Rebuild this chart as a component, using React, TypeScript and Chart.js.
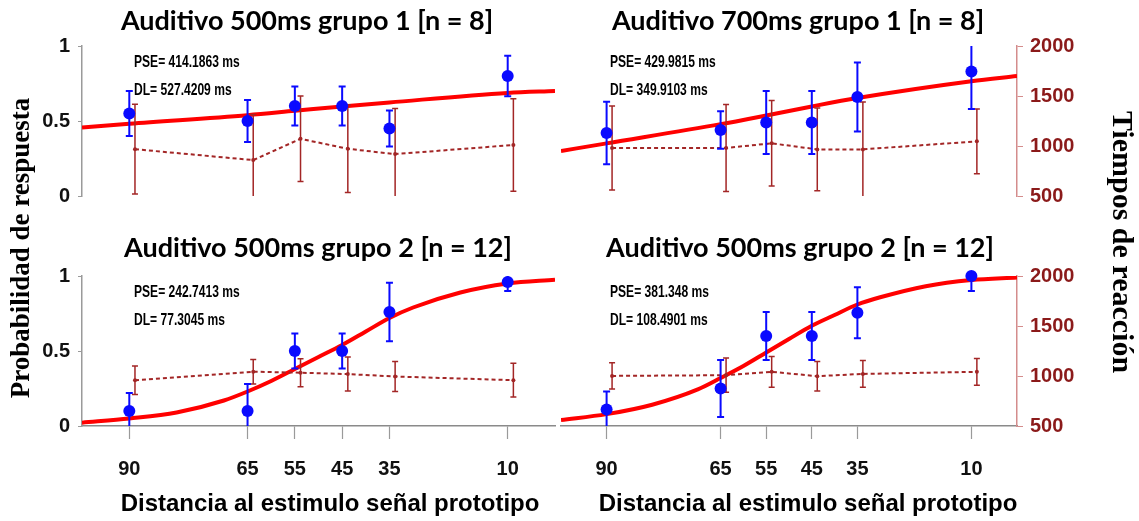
import { useEffect, useRef } from "react";
import { Chart, registerables } from "chart.js";

Chart.register(...registerables);

// Stimulus distances (x axis, shown reversed)
const DISTANCES = [90, 65, 55, 45, 35, 10];
const X_TICKS = [90, 65, 55, 45, 35, 10];
const PROB_TICKS = [0, 0.5, 1];
const RT_TICKS = [500, 1000, 1500, 2000];

// Auditivo 500ms grupo 1 [n = 8]
const PROB_A = [0.55, 0.5, 0.6, 0.6, 0.45, 0.8];
const PROB_A_ERR = [0.15, 0.14, 0.13, 0.13, 0.12, 0.135];
const RT_A = [968, 859, 1072, 972, 919, 1010];
const RT_A_ERR = [449, 456, 428, 438, 456, 463];
const FIT_A_X = [100, 90, 65, 55, 45, 35, 10, 0];
const FIT_A_Y = [0.457, 0.482, 0.539, 0.568, 0.597, 0.624, 0.687, 0.7];

// Auditivo 700ms grupo 1 [n = 8]
const PROB_B = [0.42, 0.44, 0.49, 0.49, 0.66, 0.83];
const PROB_B_ERR = [0.208, 0.125, 0.21, 0.21, 0.23, 0.25];
const RT_B = [980, 980, 1027, 966, 966, 1047];
const RT_B_ERR = [421, 436, 428, 413, 475, 324];
const FIT_B_X = [100, 90, 65, 55, 45, 35, 10, 0];
const FIT_B_Y = [0.3, 0.351, 0.479, 0.537, 0.597, 0.653, 0.765, 0.8];

// Auditivo 500ms grupo 2 [n = 12] (left)
const PROB_C = [0.1, 0.1, 0.5, 0.5, 0.76, 0.96];
const PROB_C_ERR = [0.12, 0.18, 0.116, 0.116, 0.195, 0.06];
const RT_C = [958, 1043, 1033, 1019, 995, 958];
const RT_C_ERR = [143, 122, 140, 170, 151, 169];
const FIT_C_X = [100, 90, 80, 70, 65, 60, 55, 50, 45, 40, 35, 30, 20, 10, 0];
const FIT_C_Y = [0.022, 0.05, 0.09, 0.17, 0.23, 0.3, 0.38, 0.46, 0.54, 0.63, 0.72, 0.79, 0.89, 0.95, 0.975];

// Auditivo 500ms grupo 2 [n = 12] (right)
const PROB_D = [0.11, 0.25, 0.6, 0.6, 0.755, 1.0];
const PROB_D_ERR = [0.12, 0.19, 0.16, 0.16, 0.17, 0.1];
const RT_D = [1001, 1008, 1042, 998, 1021, 1042];
const RT_D_ERR = [132, 171, 154, 148, 134, 134];
const FIT_D_X = [100, 90, 80, 70, 65, 60, 55, 50, 45, 40, 35, 30, 20, 10, 0];
const FIT_D_Y = [0.04, 0.079, 0.142, 0.244, 0.32, 0.4, 0.49, 0.58, 0.668, 0.74, 0.81, 0.858, 0.932, 0.973, 0.99];

const TITLES = [
  "Auditivo 500ms grupo 1 [n = 8]",
  "Auditivo 700ms grupo 1 [n = 8]",
  "Auditivo 500ms grupo 2 [n = 12]",
  "Auditivo 500ms grupo 2 [n = 12]",
];
const STATS = [
  ["PSE= 414.1863 ms", "DL= 527.4209 ms"],
  ["PSE= 429.9815 ms", "DL= 349.9103 ms"],
  ["PSE= 242.7413 ms", "DL= 77.3045 ms"],
  ["PSE= 381.348 ms", "DL= 108.4901 ms"],
];
const X_TITLE = "Distancia al estimulo señal prototipo";
const Y_TITLE = "Probabilidad de respuesta";
const Y2_TITLE = "Tiempos de reacción";

const W = 1139;
const H = 521;
const SANS = "'Liberation Sans', Arial, sans-serif";
const TITLE_FONT = "bold 27px Lato, 'Open Sans', sans-serif";
const FIT_RED = "#ff0000";
const RT_RED = "#a32626";
const RT_AXIS_TEXT = "#8b1a1a";
const BLUE = "#0a0aff";
const RT_SHIFT = 1.2; // reaction-time markers sit just right of the probability markers
const Y_AXIS_W = 40;
const Y2_AXIS_W = 60;
const X_AXIS_H = 50;

type TextItem = {
  text: string;
  x: number;
  y: number;
  font: string;
  color?: string;
  align?: CanvasTextAlign;
  rotate?: number;
  squeeze?: number;
};

const errorBars = {
  id: "errorBars",
  afterDatasetDraw(chart: any, args: any) {
    const ds = chart.data.datasets[args.index];
    const err: number[] | undefined = ds.errors;
    if (!err) return;
    const meta = args.meta;
    const yScale = chart.scales[meta.yAxisID];
    const area = chart.chartArea;
    const ctx = chart.ctx as CanvasRenderingContext2D;
    ctx.save();
    ctx.beginPath();
    ctx.rect(area.left, area.top, area.right - area.left, area.bottom - area.top);
    ctx.clip();
    ctx.strokeStyle = ds.errorColor;
    ctx.lineWidth = ds.errorWidth;
    const c = ds.capHalf;
    meta.data.forEach((pt: any, i: number) => {
      const v = ds.data[i].y;
      const yTop = yScale.getPixelForValue(v + err[i]);
      const yBot = yScale.getPixelForValue(v - err[i]);
      const x = pt.x;
      ctx.beginPath();
      ctx.moveTo(x, yTop);
      ctx.lineTo(x, yBot);
      ctx.moveTo(x - c, yTop);
      ctx.lineTo(x + c, yTop);
      ctx.moveTo(x - c, yBot);
      ctx.lineTo(x + c, yBot);
      ctx.stroke();
    });
    ctx.restore();
  },
};

const panelText = {
  id: "panelText",
  afterDraw(chart: any, _args: any, opts: any) {
    const items: TextItem[] = opts.items || [];
    const ctx = chart.ctx as CanvasRenderingContext2D;
    items.forEach((it) => {
      ctx.save();
      ctx.translate(it.x, it.y);
      if (it.rotate) ctx.rotate(it.rotate);
      if (it.squeeze) ctx.scale(it.squeeze, 1);
      ctx.font = it.font;
      ctx.fillStyle = it.color || "#000";
      ctx.textAlign = it.align || "center";
      ctx.textBaseline = "middle";
      ctx.fillText(it.text, 0, 0);
      ctx.restore();
    });
  },
};

type Panel = {
  area: { l: number; r: number; t: number; b: number };
  showLeft: boolean;
  showRight: boolean;
  showBottom: boolean;
  prob: number[];
  probErr: number[];
  rt: number[];
  rtErr: number[];
  fitX: number[];
  fitY: number[];
  texts: TextItem[];
};

const statFont = `bold 17px ${SANS}`;
const STAT_SQUEEZE = 0.71;
const xTitleFont = `bold 24px ${SANS}`;
const serifTitle = (size: number) => `bold ${size}px 'Liberation Serif', 'Times New Roman', serif`;

const PANELS: Panel[] = [
  {
    area: { l: 82, r: 555, t: 46, b: 196 },
    showLeft: true,
    showRight: false,
    showBottom: false,
    prob: PROB_A,
    probErr: PROB_A_ERR,
    rt: RT_A,
    rtErr: RT_A_ERR,
    fitX: FIT_A_X,
    fitY: FIT_A_Y,
    texts: [
      { text: TITLES[0], x: 307, y: 21, font: TITLE_FONT },
      { text: STATS[0][0], x: 134, y: 62, font: statFont, align: "left", squeeze: STAT_SQUEEZE },
      { text: STATS[0][1], x: 134, y: 90, font: statFont, align: "left", squeeze: STAT_SQUEEZE },
      { text: Y_TITLE, x: 22, y: 248, font: serifTitle(27), rotate: -Math.PI / 2 },
    ],
  },
  {
    area: { l: 561, r: 1017, t: 46, b: 196 },
    showLeft: false,
    showRight: true,
    showBottom: false,
    prob: PROB_B,
    probErr: PROB_B_ERR,
    rt: RT_B,
    rtErr: RT_B_ERR,
    fitX: FIT_B_X,
    fitY: FIT_B_Y,
    texts: [
      { text: TITLES[1], x: 798, y: 21, font: TITLE_FONT },
      { text: STATS[1][0], x: 610, y: 62, font: statFont, align: "left", squeeze: STAT_SQUEEZE },
      { text: STATS[1][1], x: 610, y: 90, font: statFont, align: "left", squeeze: STAT_SQUEEZE },
      { text: Y2_TITLE, x: 1121, y: 242, font: serifTitle(30), rotate: Math.PI / 2 },
    ],
  },
  {
    area: { l: 82, r: 555, t: 276, b: 426 },
    showLeft: true,
    showRight: false,
    showBottom: true,
    prob: PROB_C,
    probErr: PROB_C_ERR,
    rt: RT_C,
    rtErr: RT_C_ERR,
    fitX: FIT_C_X,
    fitY: FIT_C_Y,
    texts: [
      { text: TITLES[2], x: 318, y: 248, font: TITLE_FONT },
      { text: STATS[2][0], x: 134, y: 292, font: statFont, align: "left", squeeze: STAT_SQUEEZE },
      { text: STATS[2][1], x: 134, y: 320, font: statFont, align: "left", squeeze: STAT_SQUEEZE },
      { text: X_TITLE, x: 330, y: 504, font: xTitleFont },
    ],
  },
  {
    area: { l: 561, r: 1017, t: 276, b: 426 },
    showLeft: false,
    showRight: true,
    showBottom: true,
    prob: PROB_D,
    probErr: PROB_D_ERR,
    rt: RT_D,
    rtErr: RT_D_ERR,
    fitX: FIT_D_X,
    fitY: FIT_D_Y,
    texts: [
      { text: TITLES[3], x: 800, y: 248, font: TITLE_FONT },
      { text: STATS[3][0], x: 610, y: 292, font: statFont, align: "left", squeeze: STAT_SQUEEZE },
      { text: STATS[3][1], x: 610, y: 320, font: statFont, align: "left", squeeze: STAT_SQUEEZE },
      { text: X_TITLE, x: 808, y: 504, font: xTitleFont },
    ],
  },
];

function buildChart(canvas: HTMLCanvasElement, p: Panel) {
  const tickFont = { family: SANS, size: 20, weight: "bold" as const };
  const padding = {
    left: p.area.l - (p.showLeft ? Y_AXIS_W : 0),
    right: W - p.area.r - (p.showRight ? Y2_AXIS_W : 0),
    top: p.area.t,
    bottom: H - p.area.b - (p.showBottom ? X_AXIS_H : 0),
  };
  return new Chart(canvas, {
    type: "line",
    data: {
      datasets: [
        {
          label: "Probabilidad",
          data: DISTANCES.map((d, i) => ({ x: d, y: p.prob[i] })),
          yAxisID: "y",
          showLine: false,
          pointRadius: 6,
          pointBackgroundColor: BLUE,
          pointBorderWidth: 0,
          clip: false,
          errors: p.probErr,
          errorColor: BLUE,
          errorWidth: 2,
          capHalf: 3.5,
        } as any,
        {
          label: "Tiempo de reacción",
          data: DISTANCES.map((d, i) => ({ x: d - RT_SHIFT, y: p.rt[i] })),
          yAxisID: "y1",
          borderColor: RT_RED,
          borderWidth: 2,
          borderDash: [4, 3],
          pointRadius: 2,
          pointBackgroundColor: RT_RED,
          pointBorderWidth: 0,
          errors: p.rtErr,
          errorColor: RT_RED,
          errorWidth: 1.5,
          capHalf: 3,
        } as any,
        {
          label: "Ajuste",
          data: p.fitX.map((x, i) => ({ x, y: p.fitY[i] })),
          yAxisID: "y",
          borderColor: FIT_RED,
          borderWidth: 4,
          pointRadius: 0,
          cubicInterpolationMode: "monotone",
        },
      ],
    },
    options: {
      responsive: false,
      animation: false,
      events: [],
      layout: { padding },
      plugins: {
        legend: { display: false },
        tooltip: { enabled: false },
        panelText: { items: p.texts },
      } as any,
      scales: {
        x: {
          type: "linear",
          reverse: true,
          min: 0,
          max: 100,
          display: p.showBottom,
          afterBuildTicks: (s: any) => {
            s.ticks = X_TICKS.map((v) => ({ value: v }));
          },
          afterFit: (s: any) => {
            if (p.showBottom) s.height = X_AXIS_H;
          },
          ticks: {
            autoSkip: false,
            maxRotation: 0,
            color: "#111",
            font: tickFont,
            padding: 18,
            callback: (v: any) => String(v),
          },
          grid: { drawOnChartArea: false, color: "#9a9a9a", tickLength: 13, tickWidth: 1.2 },
          border: { color: "#8a8a8a", width: 1.5 },
        },
        y: {
          type: "linear",
          position: "left",
          min: 0,
          max: 1,
          display: p.showLeft,
          afterBuildTicks: (s: any) => {
            s.ticks = PROB_TICKS.map((v) => ({ value: v }));
          },
          afterFit: (s: any) => {
            if (p.showLeft) s.width = Y_AXIS_W;
          },
          ticks: { color: "#111", font: tickFont, padding: 8, callback: (v: any) => String(v) },
          grid: { drawOnChartArea: false, color: "#9a9a9a", tickLength: 4 },
          border: { color: "#9a9a9a", width: 1.5 },
        },
        y1: {
          type: "linear",
          position: "right",
          min: 500,
          max: 2000,
          display: p.showRight,
          afterBuildTicks: (s: any) => {
            s.ticks = RT_TICKS.map((v) => ({ value: v }));
          },
          afterFit: (s: any) => {
            if (p.showRight) s.width = Y2_AXIS_W;
          },
          ticks: { color: RT_AXIS_TEXT, font: tickFont, padding: 7, callback: (v: any) => String(v) },
          grid: { drawOnChartArea: false, color: "#d48c8c", tickLength: 6 },
          border: { color: "#d48c8c", width: 1.5 },
        },
      },
    },
    plugins: [errorBars, panelText],
  });
}

function Panel({ panel }: { panel: Panel }) {
  const ref = useRef<HTMLCanvasElement | null>(null);
  useEffect(() => {
    if (!ref.current) return;
    const chart = buildChart(ref.current, panel);
    return () => chart.destroy();
  }, [panel]);
  return (
    <canvas
      ref={ref}
      width={W}
      height={H}
      style={{ position: "absolute", left: 0, top: 0, width: W, height: H }}
    />
  );
}

export default function App() {
  return (
    <div style={{ position: "absolute", left: 0, top: 0, width: W, height: H, background: "#fff", overflow: "hidden" }}>
      {PANELS.map((p, i) => (
        <Panel key={i} panel={p} />
      ))}
    </div>
  );
}
